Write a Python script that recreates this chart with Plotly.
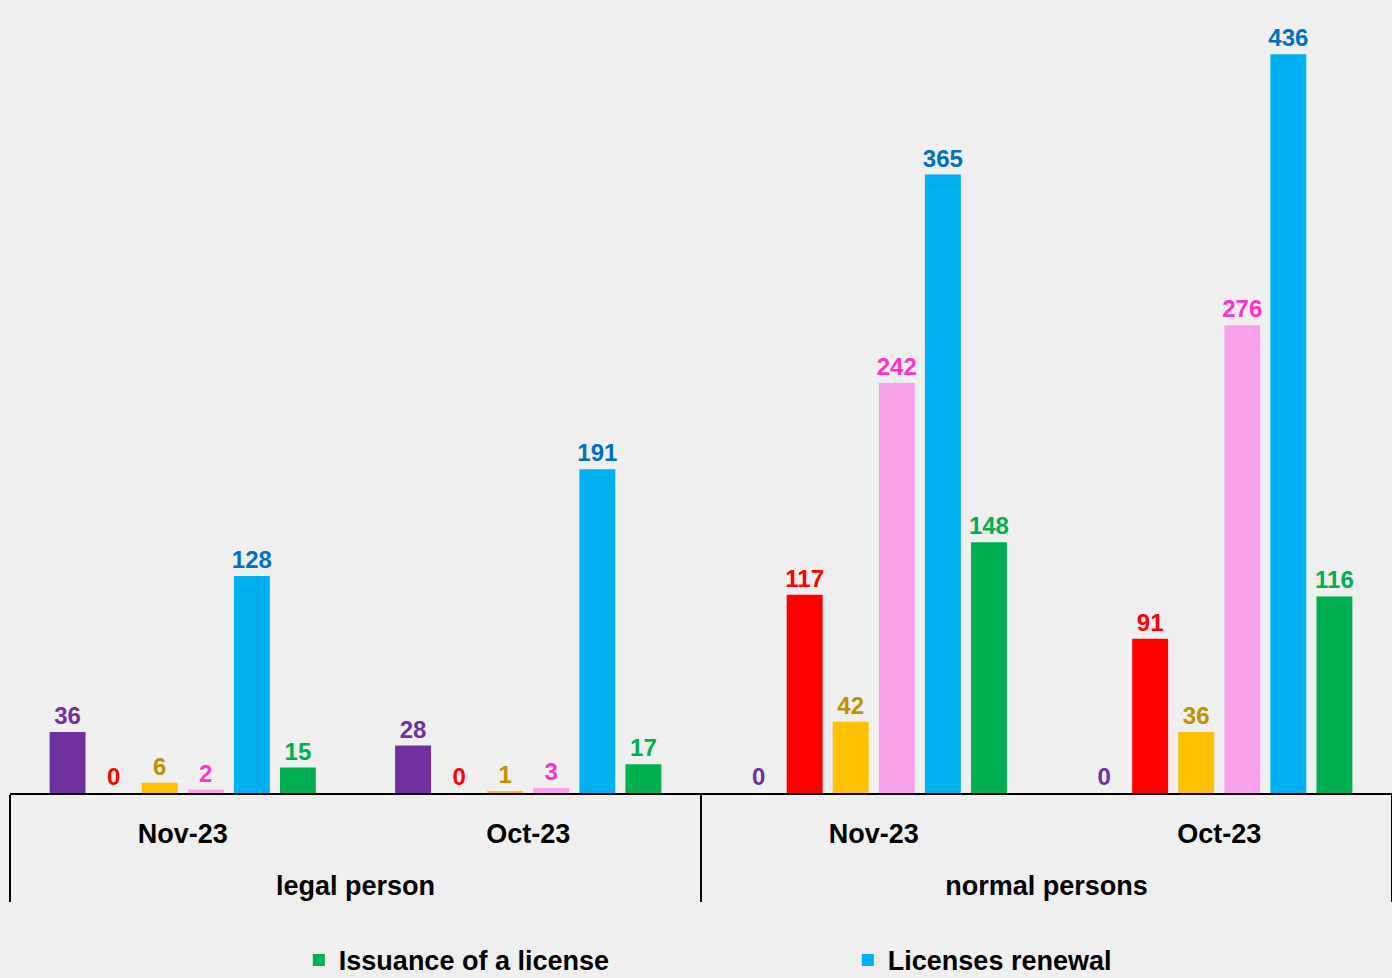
import plotly.graph_objects as go

groups = ["legal person", "legal person", "normal persons", "normal persons"]
months = ["Nov-23", "Oct-23", "Nov-23", "Oct-23"]

series_names = ["Series A", "Series B", "Series C", "Series D",
                "Licenses renewal", "Issuance of a license"]
purple_vals = [36, 28, 0, 0]
red_vals = [0, 0, 117, 91]
gold_vals = [6, 1, 42, 36]
pink_vals = [2, 3, 242, 276]
blue_vals = [128, 191, 365, 436]
green_vals = [15, 17, 148, 116]

values = [purple_vals, red_vals, gold_vals, pink_vals, blue_vals, green_vals]
bar_colors = ["#7030A0", "#FF0000", "#FFC000", "#F9A0EA", "#00B0F0", "#00B050"]
label_colors = ["#7030A0", "#FF0000", "#BF9000", "#FF33CC", "#0070C0", "#00B050"]
show_leg = [False, False, False, False, True, True]
ranks = [10, 11, 12, 13, 2, 1]

group_labels = ["<br>" + g for g in groups]

fig = go.Figure()
for name, vals, bc, lc, sl, rk in zip(series_names, values, bar_colors, label_colors, show_leg, ranks):
    fig.add_trace(go.Bar(
        x=[group_labels, months], y=vals, name=name,
        marker=dict(color=bc, line=dict(width=0)),
        text=[str(v) for v in vals], textposition="outside",
        textfont=dict(color=lc, size=24, family="Liberation Sans", weight="bold"),
        cliponaxis=False, showlegend=sl, legendrank=rk,
    ))

fig.update_layout(
    width=1392, height=978,
    barmode="group", bargap=0.2, bargroupgap=0.22,
    paper_bgcolor="#EFEFEF", plot_bgcolor="#EFEFEF",
    margin=dict(l=10, r=0, t=0, b=185, autoexpand=False),
    uniformtext=dict(minsize=24, mode="show"),
    xaxis=dict(
        type="multicategory", automargin=False,
        showline=True, linecolor="black", linewidth=2,
        showdividers=True, dividercolor="black", dividerwidth=2,
        tickfont=dict(size=27, color="black", family="Liberation Sans", weight="bold"),
        ticklabelstandoff=16,
        showgrid=False, ticks="",
    ),
    yaxis=dict(range=[0, 468], visible=False, showgrid=False),
    legend=dict(
        orientation="h", x=0.209, xanchor="left",
        yref="container", y=0.018, yanchor="middle",
        font=dict(size=27, color="black", family="Liberation Sans", weight="bold"),
        entrywidth=504, entrywidthmode="pixels",
        bgcolor="rgba(0,0,0,0)",
    ),
)

fig.write_html("out.html", config={"displayModeBar": False},
               post_script="document.body.style.margin='0';document.body.style.background='#EFEFEF';")
